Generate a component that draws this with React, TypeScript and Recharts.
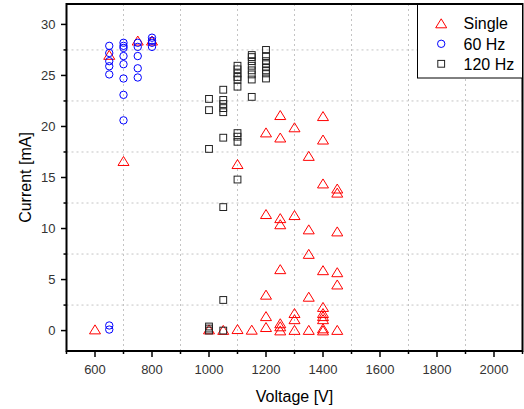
import React from 'react';
import {
  ScatterChart,
  Scatter,
  XAxis,
  YAxis,
  CartesianGrid,
  ReferenceArea,
  Legend,
} from 'recharts';

const FONT = '"Liberation Sans", Arial, sans-serif';

// ---- Data ----
const singleVoltage = [
  600, 650, 700, 750, 800, 1000, 1050, 1100, 1100, 1150,
  1200, 1200, 1200, 1200, 1200,
  1250, 1250, 1250, 1250, 1250, 1250, 1250, 1250,
  1300, 1300, 1300, 1300, 1300,
  1350, 1350, 1350, 1350, 1350,
  1400, 1400, 1400, 1400, 1400, 1400, 1400, 1400, 1400, 1400,
  1450, 1450, 1450, 1450, 1450, 1450,
];
const singleCurrent = [
  0.1, 27.0, 16.6, 28.4, 28.4, 0.1, 0.05, 0.13, 16.3, 0.07,
  0.33, 1.4, 3.5, 11.4, 19.4,
  0.0, 0.4, 0.7, 6.0, 10.4, 11.0, 18.9, 21.1,
  0.05, 1.1, 1.7, 11.3, 19.9,
  0.05, 3.3, 7.5, 9.9, 17.1,
  0.0, 0.2, 1.1, 1.4, 1.7, 2.3, 5.9, 14.4, 18.7, 21.0,
  0.05, 4.5, 5.7, 9.7, 13.5, 13.9,
];

const hz60Voltage = [
  650, 650, 650, 650, 650, 650, 650,
  700, 700, 700, 700, 700, 700, 700, 700,
  750, 750, 750, 750, 750,
  800, 800, 800, 800,
];
const hz60Current = [
  0.1, 0.5, 25.1, 25.9, 26.4, 27.2, 27.9,
  20.6, 23.1, 24.7, 26.1, 26.9, 27.7, 27.9, 28.2,
  24.8, 25.7, 26.9, 27.8, 28.2,
  27.8, 28.2, 28.4, 28.7,
];

const hz120Voltage = [
  1000, 1000, 1000, 1000, 1000, 1000,
  1050, 1050, 1050, 1050, 1050, 1050, 1050, 1050, 1050,
  1100, 1100, 1100, 1100, 1100, 1100, 1100, 1100, 1100, 1100,
  1150, 1150, 1150, 1150, 1150, 1150, 1150, 1150,
  1200, 1200, 1200, 1200, 1200, 1200, 1200, 1200,
];
const hz120Current = [
  0.0, 0.2, 0.4, 17.8, 21.6, 22.7,
  0.0, 3.0, 12.1, 18.9, 21.4, 21.8, 22.2, 22.6, 23.6,
  14.8, 18.5, 19.0, 19.35, 23.9, 24.6, 24.85, 25.2, 25.6, 25.95,
  22.9, 24.6, 25.1, 25.5, 25.95, 26.4, 26.8, 27.0,
  24.7, 25.2, 25.5, 25.8, 26.1, 26.4, 26.9, 27.5,
];

const xTicks = [500, 600, 700, 800, 900, 1000, 1100, 1200, 1300, 1400, 1500, 1600, 1700, 1800, 1900, 2000, 2100];
const yTicks = [0, 2.5, 5, 7.5, 10, 12.5, 15, 17.5, 20, 22.5, 25, 27.5, 30];
const xGrid = [700, 900, 1100, 1300, 1500, 1700, 1900];
const yGrid = [2.5, 7.5, 12.5, 17.5, 22.5, 27.5];

const seriesNames = ['Single', '60 Hz', '120 Hz'];

const zip = (xs: number[], ys: number[]) => xs.map((x, i) => ({ x, y: ys[i] }));
const singleData = zip(singleVoltage, singleCurrent);
const hz60Data = zip(hz60Voltage, hz60Current);
const hz120Data = zip(hz120Voltage, hz120Current);

// ---- Shapes ----
const RED = '#ff0000';
const BLUE = '#0000ff';
const BLACK = '#222222';

const triPath = (cx: number, cy: number) =>
  `M${cx},${cy - 4.7} L${cx + 5.5},${cy + 4.3} L${cx - 5.5},${cy + 4.3} Z`;

const Triangle = (props: any) => {
  const { cx, cy } = props;
  return <path d={triPath(cx, cy)} fill="none" stroke={RED} strokeWidth={1} />;
};
const Circle = (props: any) => {
  const { cx, cy } = props;
  return <circle cx={cx} cy={cy} r={3.7} fill="none" stroke={BLUE} strokeWidth={1} />;
};
const Square = (props: any) => {
  const { cx, cy } = props;
  return <rect x={cx - 3.4} y={cy - 3.4} width={6.8} height={6.8} fill="none" stroke={BLACK} strokeWidth={1} />;
};

// ---- Ticks ----
const XTick = (props: any) => {
  const { x, y, payload } = props;
  const major = payload.value % 200 === 0;
  return (
    <g>
      <line x1={x} x2={x} y1={y} y2={y + (major ? 6 : 3)} stroke="#000" strokeWidth={1.5} />
      {major && (
        <text x={x} y={y + 23} textAnchor="middle" fontSize={13} fill="#333" fontFamily={FONT}>
          {payload.value}
        </text>
      )}
    </g>
  );
};

const YTick = (props: any) => {
  const { x, y, payload } = props;
  const major = payload.value % 5 === 0;
  return (
    <g>
      <line x1={x - (major ? 5.5 : 3)} x2={x} y1={y} y2={y} stroke="#000" strokeWidth={1.5} />
      {major && (
        <text x={x - 11} y={y + 4.6} textAnchor="end" fontSize={13} fill="#333" fontFamily={FONT}>
          {payload.value}
        </text>
      )}
    </g>
  );
};

// ---- Legend ----
const LegendBox = () => (
  <svg width={106} height={75} style={{ display: 'block' }}>
    <rect x={0.5} y={0.5} width={105} height={73.5} fill="#fff" stroke="#000" strokeWidth={1} />
    <path d={triPath(24.2, 19.5)} fill="none" stroke={RED} strokeWidth={1} />
    <circle cx={24.2} cy={39.8} r={3.7} fill="none" stroke={BLUE} strokeWidth={1} />
    <rect x={24.2 - 3.4} y={59.8 - 3.4} width={6.8} height={6.8} fill="none" stroke={BLACK} strokeWidth={1} />
    {seriesNames.map((n, i) => (
      <text key={n} x={46.5} y={[19.5, 39.8, 59.8][i] + 5.7} fontSize={16} fill="#000" fontFamily={FONT}>
        {n}
      </text>
    ))}
  </svg>
);

export default function App() {
  return (
    <div style={{ position: 'absolute', left: 0, top: 0, width: 524, height: 409, background: '#fff' }}>
      <ScatterChart width={524} height={409} margin={{ top: 4, right: 1.5, left: 0, bottom: 0 }}>
        <CartesianGrid
          horizontalValues={yGrid}
          verticalValues={xGrid}
          stroke="#c4c4c4"
          strokeDasharray="2 3"
          strokeWidth={1}
        />
        <XAxis
          type="number"
          dataKey="x"
          domain={[500, 2100]}
          ticks={xTicks}
          interval={0}
          tickSize={0}
          tickMargin={0}
          tickLine={false}
          axisLine={false}
          tick={<XTick />}
          height={58}
          allowDataOverflow
          label={{
            value: 'Voltage [V]',
            position: 'insideBottom',
            offset: 7,
            style: { fontSize: 16, fill: '#000', fontFamily: FONT },
          }}
        />
        <YAxis
          type="number"
          dataKey="y"
          domain={[-2, 32]}
          ticks={yTicks}
          interval={0}
          tickSize={0}
          tickMargin={0}
          tickLine={false}
          axisLine={false}
          tick={<YTick />}
          width={66.5}
          allowDataOverflow
          label={{
            value: 'Current [mA]',
            angle: -90,
            position: 'insideLeft',
            offset: 25,
            style: { fontSize: 16, fill: '#000', fontFamily: FONT, textAnchor: 'middle' },
          }}
        />
        <ReferenceArea
          x1={500}
          x2={2100}
          y1={-2}
          y2={32}
          fill="none"
          fillOpacity={0}
          stroke="#000"
          strokeWidth={2}
          ifOverflow="visible"
        />
        <Scatter name="Single" data={singleData} shape={<Triangle />} isAnimationActive={false} />
        <Scatter name="60 Hz" data={hz60Data} shape={<Circle />} isAnimationActive={false} />
        <Scatter name="120 Hz" data={hz120Data} shape={<Square />} isAnimationActive={false} />
        <Legend
          layout="horizontal"
          verticalAlign="middle"
          align="center"
          width={106}
          height={75}
          content={() => <LegendBox />}
          wrapperStyle={{ left: 416.5, top: 3.5, right: 'auto', bottom: 'auto', width: 106, height: 75 }}
        />
      </ScatterChart>
    </div>
  );
}
